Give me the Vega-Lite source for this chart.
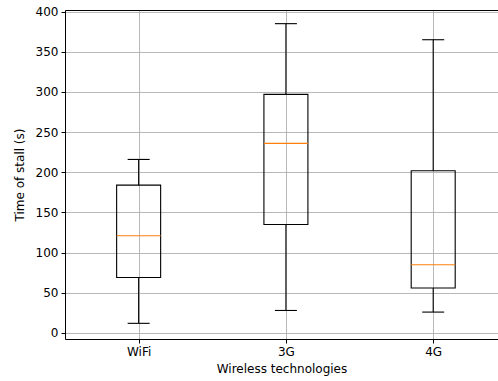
{
  "$schema": "https://vega.github.io/schema/vega-lite/v6.json",
  "autosize": {"type": "none"},
  "width": 433,
  "height": 329,
  "padding": {"left": 65, "top": 10, "right": 0, "bottom": 42},
  "background": "white",
  "view": {"stroke": null},
  "config": {
    "font": "DejaVu Sans",
    "axis": {
      "labelFont": "DejaVu Sans", "labelFontSize": 12, "labelColor": "black",
      "titleFont": "DejaVu Sans", "titleFontSize": 12, "titleFontWeight": "normal", "titleColor": "black",
      "domainColor": "black", "domainWidth": 1,
      "tickColor": "black", "tickSize": 4, "tickWidth": 1,
      "labelPadding": 3, "gridColor": "#b0b0b0", "gridWidth": 0.9
    }
  },
  "data": {
    "values": [
      {"tech": "WiFi", "pos": 1, "lo": 12, "q1": 69, "median": 121, "q3": 184, "hi": 216},
      {"tech": "3G", "pos": 2, "lo": 28, "q1": 135, "median": 236, "q3": 297, "hi": 385},
      {"tech": "4G", "pos": 3, "lo": 26, "q1": 56, "median": 85, "q3": 202, "hi": 365}
    ]
  },
  "resolve": {"axis": {"x": "independent"}},
  "layer": [
    {
      "mark": {"type": "rule", "color": "black", "strokeWidth": 1.1},
      "encoding": {
        "x": {"field": "pos", "type": "quantitative", "scale": {"domain": [0.5, 3.44], "nice": false, "zero": false, "padding": 0},
          "axis": {"values": [1, 2, 3], "labelExpr": "datum.value == 1 ? 'WiFi' : datum.value == 2 ? '3G' : '4G'", "title": "Wireless technologies", "grid": true, "titlePadding": 6}},
        "y": {"field": "lo", "type": "quantitative", "scale": {"domain": [-7.5, 402], "nice": false, "zero": false, "padding": 0},
          "axis": {"values": [0, 50, 100, 150, 200, 250, 300, 350, 400], "title": "Time of stall (s)", "grid": true, "titlePadding": 9}},
        "y2": {"field": "q1"}
      }
    },
    {
      "mark": {"type": "rule", "color": "black", "strokeWidth": 1.1},
      "encoding": {
        "x": {"field": "pos", "type": "quantitative", "axis": {"orient": "top", "labels": false, "ticks": false, "grid": false, "title": null, "domain": true}},
        "y": {"field": "q3", "type": "quantitative"},
        "y2": {"field": "hi"}
      }
    },
    {
      "mark": {"type": "bar", "fill": null, "fillOpacity": 0, "stroke": "black", "strokeWidth": 1.1, "width": 44},
      "encoding": {
        "x": {"field": "pos", "type": "quantitative", "axis": null},
        "y": {"field": "q1", "type": "quantitative"},
        "y2": {"field": "q3"}
      }
    },
    {
      "mark": {"type": "tick", "color": "black", "size": 22, "thickness": 1.1, "orient": "horizontal", "opacity": 1},
      "encoding": {
        "x": {"field": "pos", "type": "quantitative", "axis": null},
        "y": {"field": "lo", "type": "quantitative"}
      }
    },
    {
      "mark": {"type": "tick", "color": "black", "size": 22, "thickness": 1.1, "orient": "horizontal", "opacity": 1},
      "encoding": {
        "x": {"field": "pos", "type": "quantitative", "axis": null},
        "y": {"field": "hi", "type": "quantitative"}
      }
    },
    {
      "mark": {"type": "tick", "color": "#ff7f0e", "size": 44, "thickness": 1.1, "orient": "horizontal", "opacity": 1},
      "encoding": {
        "x": {"field": "pos", "type": "quantitative", "axis": null},
        "y": {"field": "median", "type": "quantitative"}
      }
    }
  ]
}
